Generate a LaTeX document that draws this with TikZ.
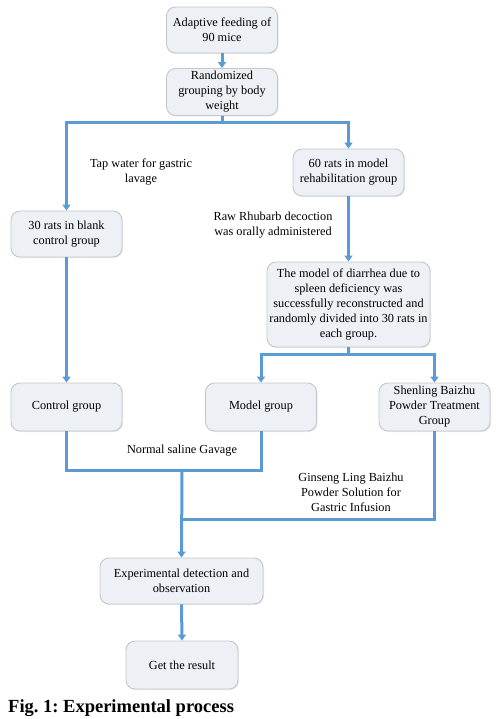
\documentclass[tikz,border=0pt]{standalone}
\usepackage{fontspec}
\setmainfont{Liberation Serif}
\usetikzlibrary{arrows.meta,shadows}
\definecolor{boxfill}{HTML}{EDF0F4}
\definecolor{boxline}{HTML}{C4C7CB}
\definecolor{flow}{HTML}{5B9BD5}
\frenchspacing
\begin{document}
\begin{tikzpicture}[x=1pt,y=-1pt,
  box/.style={draw=boxline, line width=0.9pt, fill=boxfill, rounded corners=9pt,
    align=center, inner sep=1pt, font=\fontsize{12.3}{15}\selectfont,
    drop shadow={shadow xshift=1pt, shadow yshift=-1pt, opacity=0.18}},
  lbl/.style={align=center, inner sep=0pt, font=\fontsize{12.3}{15}\selectfont},
  flowline/.style={draw=flow, line width=3pt},
  flowarrow/.style={flowline, -{Triangle[width=8pt,length=6pt]}}]
\useasboundingbox (0,0) rectangle (502,719);

\node[box, minimum width=111pt, minimum height=46pt] (b1) at (222,30) {Adaptive feeding of\\90 mice};
\node[box, minimum width=111pt, minimum height=47pt] (b2) at (222,92) {Randomized\\grouping by body\\weight};
\node[box, minimum width=111pt, minimum height=47pt] (b4) at (348.5,172.5) {60 rats in model\\rehabilitation group};
\node[box, minimum width=111pt, minimum height=46pt] (b3) at (66.5,234) {30 rats in blank\\control group};
\node[box, minimum width=163pt, minimum height=85pt] (b5) at (348.5,304.5) {The model of diarrhea due to\\spleen deficiency was\\successfully reconstructed and\\randomly divided into 30 rats in\\each group.};
\node[box, minimum width=111pt, minimum height=48pt] (b6) at (66.5,407) {Control group};
\node[box, minimum width=111pt, minimum height=48pt] (b7) at (261,407) {Model group};
\node[box, minimum width=111pt, minimum height=48pt] (b8) at (434.5,407) {Shenling Baizhu\\Powder Treatment\\Group};
\node[box, minimum width=163pt, minimum height=46pt] (b9) at (181.5,581) {Experimental detection and\\observation};
\node[box, minimum width=112pt, minimum height=48pt] (b10) at (182,665) {Get the result};

\node[lbl] (l1) at (141,172) {Tap water for gastric\\lavage};
\node[lbl] (l2) at (273,225) {Raw Rhubarb decoction\\was orally administered};
\node[lbl] (l3) at (182,451) {Normal saline Gavage};
\node[lbl] (l4) at (351,492) {Ginseng Ling Baizhu\\Powder Solution for\\Gastric Infusion};

\node[anchor=base west, inner sep=0pt, font=\fontsize{18.5}{21}\selectfont\bfseries] (cap) at (8,712) {Fig. 1: Experimental process};

\coordinate (s1) at (222,123);
\coordinate (s2) at (348.5,354);
\coordinate (j1) at (182,470);
\coordinate (j2) at (182,519);

\draw[flowarrow] (b1.south) -- (b2.north);
\draw[flowline] (b2.south) -- (s1);
\draw[flowarrow] (s1) -| (b3.north);
\draw[flowarrow] (s1) -| (b4.north);
\draw[flowarrow] (b4.south) -- (b5.north);
\draw[flowarrow] (b3.south) -- (b6.north);
\draw[flowline] (b5.south) -- (s2);
\draw[flowarrow] (s2) -| (b7.north);
\draw[flowarrow] (s2) -| (b8.north);
\draw[flowline] (b6.south) |- (j1);
\draw[flowline] (b7.south) |- (j1);
\draw[flowline] (b8.south) |- (j2);
\draw[flowarrow] (j1) -- (b9.north);
\draw[flowarrow] (b9.south) -- (b10.north);
\end{tikzpicture}
\end{document}
